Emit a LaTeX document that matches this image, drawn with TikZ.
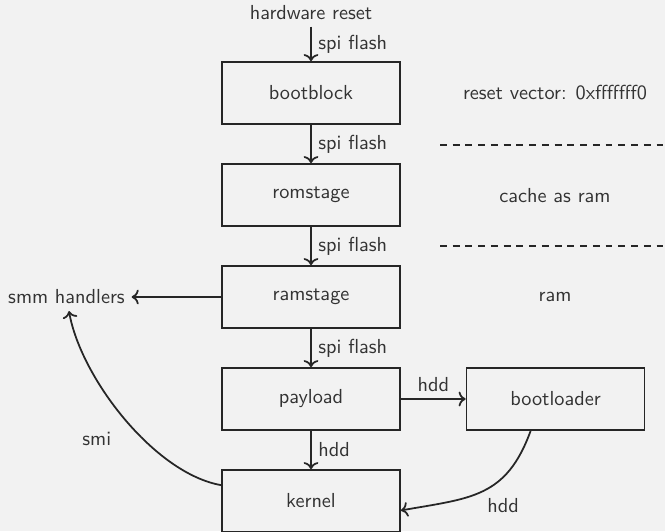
\documentclass[tikz,border=0pt]{standalone}
\usetikzlibrary{arrows.meta}
\definecolor{bg}{HTML}{F2F2F2}
\definecolor{ink}{HTML}{262626}
\definecolor{txt}{HTML}{333333}
\begin{document}
\begin{tikzpicture}[x=0.5102pt,y=0.5102pt,
  font=\sffamily\fontsize{10.35pt}{12.4pt}\selectfont, text=txt,
  stage/.style={draw=ink, line width=0.9pt, minimum width=90.8pt, minimum height=31.6pt},
  arr/.style={->, draw=ink, line width=0.9pt},
  sep/.style={draw=ink, line width=0.8pt, dash pattern=on 3.5pt off 3pt}]
\fill[bg] (0,0) rectangle (665,-531);
\useasboundingbox (0,0) rectangle (665,-531);
% nodes
\node (hw) at (311,-12.6) {hardware reset};
\node[stage] (bootblock) at (311,-93) {bootblock};
\node[stage] (romstage) at (311,-195) {romstage};
\node[stage] (ramstage) at (311,-297) {ramstage};
\node[stage] (payload) at (311,-399) {payload};
\node[stage] (kernel) at (311,-501) {kernel};
\node[stage] (bootloader) at (555.5,-399) {bootloader};
\node (smm) at (66.5,-297) {smm handlers};
\node (rv) at (555,-93) {reset vector: 0xfffffff0};
\node (car) at (555,-196) {cache as ram};
\node (ram) at (555,-297) {ram};
\coordinate (d1a) at (440,-145);
\coordinate (d1b) at (665,-145);
\coordinate (d2a) at (440,-246);
\coordinate (d2b) at (665,-246);
% separators
\draw[sep] (d1a) -- (d1b);
\draw[sep] (d2a) -- (d2b);
% connectors
\draw[arr] (hw) -- node[right]{spi flash} (bootblock);
\draw[arr] (bootblock) -- node[right]{spi flash} (romstage);
\draw[arr] (romstage) -- node[right]{spi flash} (ramstage);
\draw[arr] (ramstage) -- node[right]{spi flash} (payload);
\draw[arr] (ramstage) -- (smm);
\draw[arr] (payload) -- node[above]{hdd} (bootloader);
\draw[arr] (payload) -- node[right]{hdd} (kernel);
\draw[arr] (kernel) to[out=170,in=-80,looseness=0.75] node[below left,xshift=-3pt,yshift=-3pt]{smi} (smm);
\draw[arr] (bootloader.232) to[out=250,in=10,looseness=1.2] node[below right,xshift=-1.5pt]{hdd} (kernel.-6);
\end{tikzpicture}
\end{document}
